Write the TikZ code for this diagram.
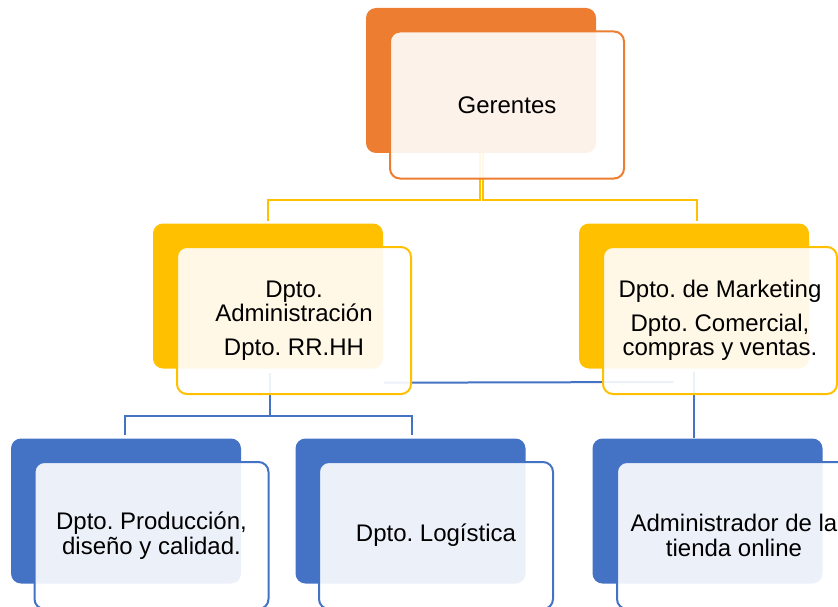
\documentclass[tikz,border=0pt]{standalone}
\usepackage{fontspec}
\setmainfont{Liberation Sans}
\usetikzlibrary{calc}
\definecolor{orng}{HTML}{ED7D31}
\definecolor{yel}{HTML}{FFC000}
\definecolor{blu}{HTML}{4472C4}
\frenchspacing
\begin{document}
\begin{tikzpicture}[x=1pt,y=-1pt,
  back/.style={fill=#1, draw=none, rounded corners=10pt, minimum width=230pt, minimum height=145pt, inner sep=0pt},
  front/.style={draw=#1, line width=2pt, fill=white, fill opacity=0.9, text opacity=1, rounded corners=10pt,
    minimum width=234pt, minimum height=147pt, inner sep=0pt, align=center, text=black,
    font=\fontsize{24}{24.5}\selectfont},
  conn/.style={draw=#1, line width=2pt}]
\useasboundingbox (0,0) rectangle (838,607);
% back boxes
\node[back=orng] (gB) at (481,80.5) {};
\node[back=yel] (aB) at (268,296) {};
\node[back=yel] (mB) at (694,296) {};
\node[back=blu] (pB) at (126,511) {};
\node[back=blu] (lB) at (410.5,511) {};
\node[back=blu] (tB) at (707.5,511) {};
% connectors
\draw[conn=yel, line width=1.6pt] ($(gB.south)+(-1,0)$) -- ($(gB.south)+(-1,47)$) -| ($(aB.north)+(0,-2)$);
\draw[conn=yel, line width=1.6pt] ($(gB.south)+(2,0)$) -- ($(gB.south)+(2,47)$) -| ($(mB.north)+(3,-2)$);
\coordinate (hb) at (270,416);
\draw[conn=blu] ($(aB.south)+(2,4)$) -- (hb) -| ($(pB.north)+(-1,-3)$);
\draw[conn=blu] (hb) -| ($(lB.north)+(1.5,-3)$);
\draw[conn=blu] ($(aB.south east)+(1,14)$) -- (673,382);
\coordinate (tv) at (694,372);
\draw[conn=blu] (tv) -- (tv |- tB.north);
% front boxes
\node[front=orng] (gF) at (507,105) {Gerentes};
\node[front=yel] (aF) at (294,320.5) {Dpto.\\Administración\\[9pt]Dpto. RR.HH};
\node[front=yel] (mF) at (720,320.5) {Dpto. de Marketing\\[9pt]Dpto. Comercial,\\compras y ventas.};
\node[front=blu] (pF) at (151.5,535.5) {Dpto. Producción,\\diseño y calidad.};
\node[front=blu] (lF) at (436,535.5) {Dpto. Logística};
\node[front=blu] (tF) at (734,535.5) {Administrador de la\\tienda online};
\end{tikzpicture}
\end{document}
